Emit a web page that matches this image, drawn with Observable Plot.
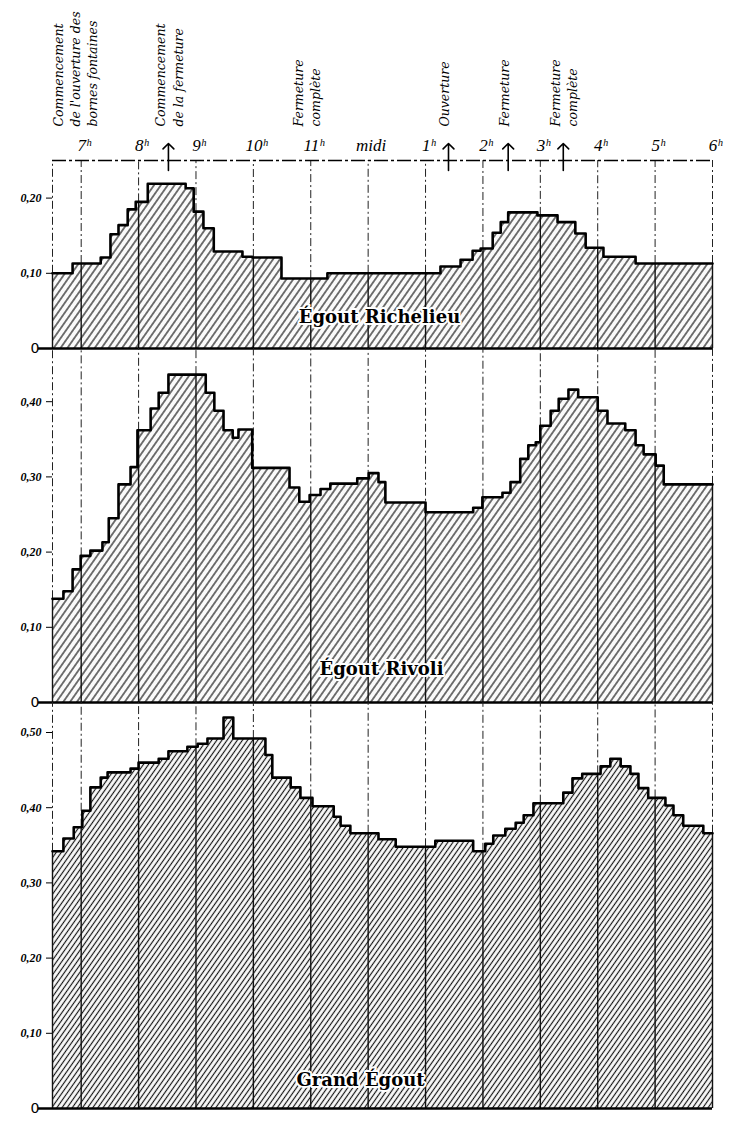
<!DOCTYPE html>
<html><head><meta charset="utf-8">
<script src="https://cdn.jsdelivr.net/npm/d3@7"></script>
<script src="https://cdn.jsdelivr.net/npm/@observablehq/plot@0.6"></script>
<style>body{margin:0;background:#fff} #chart svg{display:block}</style>
</head><body><div id="chart"></div>
<script>
// ---------- data (time in decimal hours, value in m³/s) ----------
const hourTicks  = [7, 8, 9, 10, 11, 12, 13, 14, 15, 16, 17, 18];
const hourLabels = ["7ʰ", "8ʰ", "9ʰ", "10ʰ", "11ʰ", "midi", "1ʰ", "2ʰ", "3ʰ", "4ʰ", "5ʰ", "6ʰ"];
const startTime = 6.5;

const richelieuTimes  = [6.50, 6.85, 7.34, 7.51, 7.65, 7.81, 7.95, 8.16, 8.82, 8.96, 9.13, 9.31, 9.81, 9.98, 10.49, 11.29, 13.26, 13.61, 13.82, 13.96, 14.17, 14.31, 14.44, 14.95, 15.30, 15.61, 15.79, 16.10, 16.66];
const richelieuValues = [0.100, 0.113, 0.121, 0.152, 0.164, 0.185, 0.195, 0.219, 0.213, 0.182, 0.160, 0.129, 0.122, 0.121, 0.093, 0.100, 0.109, 0.118, 0.130, 0.133, 0.154, 0.168, 0.181, 0.177, 0.168, 0.153, 0.134, 0.122, 0.113];

const rivoliTimes  = [6.50, 6.69, 6.85, 6.99, 7.16, 7.37, 7.48, 7.65, 7.86, 7.98, 8.21, 8.35, 8.52, 9.17, 9.32, 9.48, 9.64, 9.74, 9.98, 10.63, 10.80, 10.98, 11.17, 11.34, 11.81, 12.01, 12.18, 12.30, 13.00, 13.83, 13.99, 14.34, 14.48, 14.65, 14.79, 14.92, 15.00, 15.18, 15.32, 15.49, 15.66, 16.00, 16.17, 16.48, 16.66, 16.80, 17.01, 17.15];
const rivoliValues = [0.138, 0.148, 0.177, 0.195, 0.202, 0.213, 0.245, 0.290, 0.313, 0.362, 0.391, 0.412, 0.436, 0.412, 0.388, 0.362, 0.352, 0.363, 0.312, 0.286, 0.267, 0.276, 0.284, 0.291, 0.298, 0.305, 0.293, 0.266, 0.253, 0.259, 0.273, 0.279, 0.293, 0.324, 0.342, 0.346, 0.368, 0.388, 0.404, 0.416, 0.406, 0.388, 0.371, 0.362, 0.342, 0.330, 0.315, 0.290];

const grandTimes  = [6.50, 6.69, 6.87, 7.02, 7.16, 7.34, 7.46, 7.86, 8.00, 8.35, 8.52, 8.85, 9.03, 9.20, 9.48, 9.65, 10.21, 10.33, 10.65, 10.82, 11.03, 11.40, 11.52, 11.69, 12.18, 12.48, 13.17, 13.83, 14.04, 14.18, 14.39, 14.57, 14.71, 14.88, 15.40, 15.56, 15.73, 16.05, 16.22, 16.40, 16.57, 16.71, 16.88, 17.18, 17.32, 17.49, 17.84];
const grandValues = [0.342, 0.359, 0.374, 0.396, 0.427, 0.440, 0.447, 0.452, 0.460, 0.465, 0.475, 0.481, 0.485, 0.492, 0.520, 0.492, 0.470, 0.440, 0.427, 0.413, 0.402, 0.388, 0.376, 0.366, 0.358, 0.348, 0.356, 0.342, 0.352, 0.363, 0.372, 0.380, 0.390, 0.406, 0.420, 0.439, 0.445, 0.455, 0.465, 0.455, 0.445, 0.426, 0.413, 0.403, 0.390, 0.376, 0.366];

const panelNames = ["Égout Richelieu", "Égout Rivoli", "Grand Égout"];
const yTicks1 = [0.10, 0.20];
const yTicks2 = [0.10, 0.20, 0.30, 0.40];
const yTicks3 = [0.10, 0.20, 0.30, 0.40, 0.50];

const annotationTimes = [6.88, 8.52, 10.92, 13.31, 14.36, 15.39];
const annotationTexts = [
  "Commencement\nde l'ouverture des\nbornes fontaines",
  "Commencement\nde la fermeture",
  "Fermeture\ncomplète",
  "Ouverture",
  "Fermeture",
  "Fermeture\ncomplète"
];
const arrowTimes = [8.52, 13.40, 14.44, 15.40];

// ---------- layout ----------
const W = 729, ML = 52, MR = 17;
const PX_PER_UNIT = 752;
const HEADER = 160;

function hatchDefs(id, gap) {
  return () => {
    const ns = "http://www.w3.org/2000/svg";
    const defs = document.createElementNS(ns, "defs");
    const p = document.createElementNS(ns, "pattern");
    p.setAttribute("id", id);
    p.setAttribute("patternUnits", "userSpaceOnUse");
    p.setAttribute("width", gap);
    p.setAttribute("height", 10);
    p.setAttribute("patternTransform", "rotate(35)");
    const r = document.createElementNS(ns, "rect");
    r.setAttribute("width", gap); r.setAttribute("height", 10); r.setAttribute("fill", "#fafafa");
    const l = document.createElementNS(ns, "line");
    l.setAttribute("x1", gap / 2); l.setAttribute("x2", gap / 2);
    l.setAttribute("y1", 0); l.setAttribute("y2", 10);
    l.setAttribute("stroke", "#111"); l.setAttribute("stroke-width", 1.15);
    p.appendChild(r); p.appendChild(l); defs.appendChild(p);
    return defs;
  };
}

const fmt = d => d.toFixed(2).replace(".", ",");

function panel({times, values, name, ticks, plotH, marginTop = 0, marginBottom = 0, header = false, hatchId, gap, titleDx, titleDy}) {
  const rows = times.map((t, i) => ({t, v: values[i]}));
  rows.push({t: 18, v: values[values.length - 1]});
  const valueAt = h => { let v = rows[0].v; for (const r of rows) if (r.t <= h + 1e-9) v = r.v; return v; };
  const grid = [startTime, ...hourTicks].map(h => ({h, v: valueAt(h)}));
  const yMax = plotH / PX_PER_UNIT;

  const marks = [
    hatchDefs(hatchId, gap),
    Plot.areaY(rows, {x: "t", y: "v", curve: "step-after", fill: `url(#${hatchId})`}),
    Plot.ruleX(grid, {x: "h", y1: 0, y2: "v", stroke: "#111", strokeWidth: 1.4}),
    Plot.ruleX(grid, {x: "h", y1: "v", y2: yMax, stroke: "#222", strokeWidth: 1, strokeDasharray: "8,3,2,3"}),
    Plot.lineY(rows, {x: "t", y: "v", curve: "step-after", stroke: "#000", strokeWidth: 2.6}),
    Plot.ruleY([0], {insetLeft: -14, stroke: "#000", strokeWidth: 2.5}),
    Plot.axisY({ticks, tickFormat: fmt, label: null, tickSize: 6, tickPadding: 5, fontSize: 12, fontStyle: "italic", fontWeight: "bold", fontFamily: "Liberation Serif"}),
    Plot.text([0], {y: d => d, text: () => "0", frameAnchor: "left", dx: -22, fontSize: 14, fontFamily: "DejaVu Sans"}),
    Plot.text([name], {text: d => d, frameAnchor: "bottom", dx: titleDx, dy: titleDy, lineAnchor: "middle",
      fontSize: 18, fontWeight: "bold", fontFamily: "DejaVu Serif", fill: "#000", stroke: "#fff", strokeWidth: 4, paintOrder: "stroke"})
  ];
  if (header) {
    marks.push(
      Plot.ruleY([yMax], {stroke: "#000", strokeWidth: 1.6, strokeDasharray: "14,3,3,3"}),
      Plot.text(hourTicks, {x: d => d, text: (d, i) => hourLabels[i], frameAnchor: "top", dy: -10, dx: 3, lineAnchor: "bottom",
        fontSize: 17, fontStyle: "italic", fontFamily: "Liberation Serif"}),
      Plot.text(annotationTimes, {x: d => d, text: (d, i) => annotationTexts[i], frameAnchor: "top", dy: -34, rotate: -90,
        textAnchor: "start", lineAnchor: "middle", lineHeight: 1.38, fontSize: 12.5, fontStyle: "italic", fontFamily: "DejaVu Serif"}),
      Plot.vector(arrowTimes, {x: d => d, frameAnchor: "top", dy: 10, length: 27, anchor: "start", rotate: 0, stroke: "#000", strokeWidth: 1.6})
    );
  }
  return Plot.plot({
    width: W, height: plotH + marginTop + marginBottom,
    marginLeft: ML, marginRight: MR, marginTop, marginBottom,
    x: {domain: [startTime, 18], axis: null},
    y: {domain: [0, yMax], label: null},
    style: {background: "#fff", overflow: "visible", fontFamily: "Liberation Serif", color: "#000"},
    marks
  });
}

const chart = document.getElementById("chart");
chart.appendChild(panel({times: richelieuTimes, values: richelieuValues, name: panelNames[0], ticks: yTicks1,
  plotH: 188, marginTop: HEADER, header: true, hatchId: "hatchA", gap: 5.6, titleDx: -3, titleDy: -31}));
chart.appendChild(panel({times: rivoliTimes, values: rivoliValues, name: panelNames[1], ticks: yTicks2,
  plotH: 354, hatchId: "hatchB", gap: 5.6, titleDx: -1, titleDy: -33}));
chart.appendChild(panel({times: grandTimes, values: grandValues, name: panelNames[2], ticks: yTicks3,
  plotH: 406, marginBottom: 16, hatchId: "hatchC", gap: 4.2, titleDx: -22, titleDy: -28}));
</script>
</body></html>
